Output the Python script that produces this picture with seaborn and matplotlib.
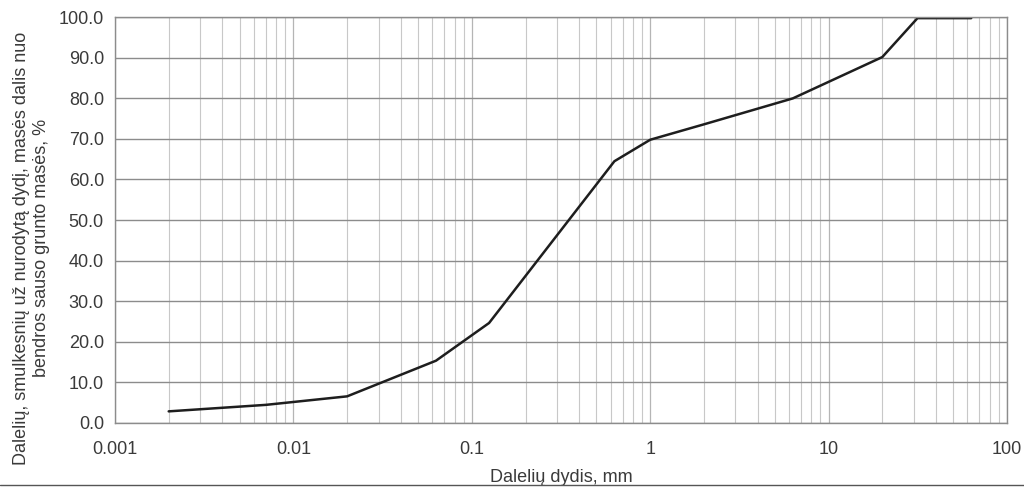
import numpy as np
import matplotlib
matplotlib.use("Agg")
import matplotlib.pyplot as plt
import matplotlib.ticker as mticker
import seaborn as sns
import pandas as pd

# particle size distribution
size_mm = [0.002, 0.007, 0.02, 0.063, 0.125, 0.63, 1.0, 2.0, 6.3, 20.0, 31.5, 63.0]
passing = [2.8, 4.4, 6.5, 15.3, 24.6, 64.5, 69.8, 73.6, 80.0, 90.2, 99.8, 99.8]

x_ticks = [0.001, 0.01, 0.1, 1, 10, 100]
x_tick_labels = ["0.001", "0.01", "0.1", "1", "10", "100"]
y_ticks = list(range(0, 101, 10))

df = pd.DataFrame({"size": size_mm, "pass": passing})

sns.set_style("white")
plt.rcParams["font.family"] = ["Liberation Sans", "DejaVu Sans"]

fig = plt.figure(figsize=(10.24, 4.88), dpi=100)
ax = fig.add_axes([0.1123, 0.1338, 0.8711, 0.8307])

sns.lineplot(data=df, x="size", y="pass", ax=ax, color="#1e1e1e", linewidth=1.8)

ax.set_xscale("log")
ax.set_xlim(0.001, 100)
ax.set_ylim(0, 100)

ax.set_xticks(x_ticks)
ax.set_xticklabels(x_tick_labels)
ax.xaxis.set_minor_locator(mticker.LogLocator(base=10, subs=np.arange(2, 10)))
ax.xaxis.set_minor_formatter(mticker.NullFormatter())
ax.set_yticks(y_ticks)
ax.yaxis.set_major_formatter(mticker.FormatStrFormatter("%.1f"))

ax.grid(axis="y", which="major", color="#8c8c8c", linewidth=1.0)
ax.grid(axis="x", which="major", color="#b5b5b5", linewidth=0.9)
ax.grid(axis="x", which="minor", color="#c8c8c8", linewidth=0.8)
ax.set_axisbelow(True)

for side in ["left", "bottom", "top", "right"]:
    ax.spines[side].set_color("#8c8c8c")
    ax.spines[side].set_linewidth(1.0)

ax.tick_params(axis="both", which="major", direction="out", length=4,
               color="#8c8c8c", labelsize=13, labelcolor="#3a3a3a")
ax.tick_params(axis="x", which="major", pad=9)
ax.tick_params(axis="y", which="major", pad=4)
ax.tick_params(axis="x", which="minor", length=0)

ax.set_xlabel("Dalelių dydis, mm", fontsize=13, color="#3a3a3a", labelpad=8)
ax.set_ylabel("Dalelių, smulkesnių už nurodytą dydį, masės dalis nuo\nbendros sauso grunto masės, %",
              fontsize=13, color="#3a3a3a", linespacing=1.25)
ax.yaxis.set_label_coords(-0.073, 0.43)

fig.add_artist(plt.Line2D([0.0, 1.0], [0.006, 0.006], color="#555555", linewidth=1.0))

fig.savefig("out.png", dpi=100, facecolor="white")
